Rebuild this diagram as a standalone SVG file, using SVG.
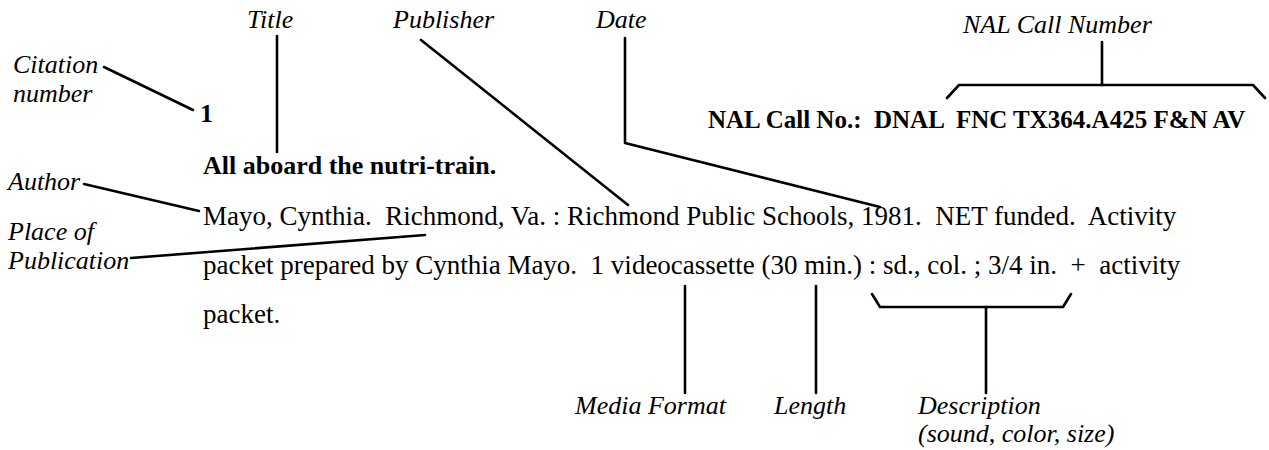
<svg xmlns="http://www.w3.org/2000/svg" width="1269" height="450" viewBox="0 0 1269 450">
<style>
.lbl{font-family:"Liberation Serif","Times New Roman",serif;font-style:italic;font-size:26px;fill:#000}
.bold{font-family:"Liberation Serif","Times New Roman",serif;font-weight:bold;font-size:26px;fill:#000;white-space:pre}
.reg{font-family:"Liberation Serif","Times New Roman",serif;font-size:27px;fill:#000;white-space:pre}
.ln{stroke:#000;stroke-width:2.6;fill:none;stroke-linecap:round;stroke-linejoin:round}
</style>
<rect width="1269" height="450" fill="#fff"/>
<g id="labels">
  <g id="title-label"><text class="lbl" x="247" y="28">Title</text></g>
  <g id="publisher-label"><text class="lbl" x="393" y="28">Publisher</text></g>
  <g id="date-label"><text class="lbl" x="596" y="28">Date</text></g>
  <g id="nal-label"><text class="lbl" x="963" y="33">NAL Call Number</text></g>
  <g id="citation-label"><text class="lbl"><tspan x="13" y="73">Citation</tspan><tspan x="13" y="102">number</tspan></text></g>
  <g id="author-label"><text class="lbl" x="8" y="190">Author</text></g>
  <g id="place-label"><text class="lbl"><tspan x="8" y="240">Place of</tspan><tspan x="8" y="269">Publication</tspan></text></g>
  <g id="media-label"><text class="lbl" x="575" y="414">Media Format</text></g>
  <g id="length-label"><text class="lbl" x="774" y="414">Length</text></g>
  <g id="desc-label"><text class="lbl"><tspan x="918" y="414">Description</tspan><tspan x="918" y="442">(sound, color, size)</tspan></text></g>
</g>
<g id="record">
  <g id="citation-num"><text class="bold" x="200" y="122">1</text></g>
  <g id="call-no"><text class="bold" x="708" y="128" style="font-size:25px" xml:space="preserve">NAL Call No.:  DNAL  FNC TX364.A425 F&amp;N AV</text></g>
  <g id="title"><text class="bold" x="203" y="174">All aboard the nutri-train.</text></g>
  <g id="body">
    <text class="reg" x="203" y="225" xml:space="preserve">Mayo, Cynthia.  Richmond, Va. : Richmond Public Schools, 1981.  NET funded.  Activity</text>
    <text class="reg" x="203" y="274" xml:space="preserve">packet prepared by Cynthia Mayo.  1 videocassette (30 min.) : sd., col. ; 3/4 in.  +  activity</text>
    <text class="reg" x="203" y="323">packet.</text>
  </g>
</g>
<g id="connectors" class="ln">
  <line x1="277" y1="36" x2="277" y2="152"/>
  <line x1="104" y1="67" x2="193" y2="110"/>
  <line x1="421" y1="40" x2="628" y2="205"/>
  <polyline points="625,38 625,143 880,207"/>
  <polyline points="947,98 959,85 1253,85 1265,98"/>
  <line x1="1102" y1="85" x2="1102" y2="42"/>
  <line x1="84" y1="184" x2="199" y2="211"/>
  <line x1="131" y1="258" x2="425" y2="235"/>
  <line x1="685" y1="286" x2="685" y2="393"/>
  <line x1="816" y1="286" x2="816" y2="393"/>
  <polyline points="872,294 880,307 1063,307 1071,294"/>
  <line x1="986" y1="307" x2="986" y2="393"/>
</g>
</svg>
